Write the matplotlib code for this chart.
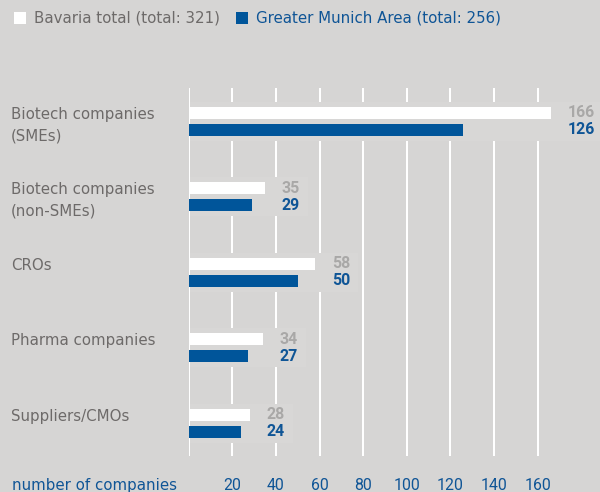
import matplotlib
matplotlib.use("Agg")
import matplotlib.pyplot as plt
from matplotlib.patches import Rectangle
from matplotlib.transforms import blended_transform_factory
import numpy as np

categories = ["Biotech companies\n(SMEs)", "Biotech companies\n(non-SMEs)", "CROs",
              "Pharma companies", "Suppliers/CMOs"]
bavaria = [166, 35, 58, 34, 28]
munich = [126, 29, 50, 27, 24]
ticks = [20, 40, 60, 80, 100, 120, 140, 160]
legend_labels = ["Bavaria total (total: 321)", "Greater Munich Area (total: 256)"]
xlabel = "number of companies"

BG = "#d6d5d4"
BOX = "#d8d7d6"
BLUE = "#00559a"
BLUE_TXT = "#0f5596"
GRAY_TXT = "#6d6a69"
GRAY_VAL = "#a9a8a7"
NUMFONT = "Roboto"

W, H = 600, 492
fig = plt.figure(figsize=(6, 4.92), dpi=100, facecolor=BG)

left_px, top_px, bot_px = 188.7, 88.3, 455.7
ax = fig.add_axes([left_px / W, (H - bot_px) / H, (W - left_px) / W, (bot_px - top_px) / H])
ax.set_facecolor(BG)
for s in ax.spines.values():
    s.set_visible(False)

scale = 2.18  # px per unit
ax.set_xlim(0, (W - left_px) / scale)
ax.set_ylim(4.43, -0.437)

ax.set_xticks(ticks)
ax.set_xticklabels([str(t) for t in ticks], fontfamily=NUMFONT, fontsize=11.4, color=BLUE_TXT)
ax.tick_params(axis="x", length=0, pad=16.0)
ax.set_yticks([])
ax.set_axisbelow(True)
ax.grid(axis="x", color="white", lw=1.45)
ax.axvline(0, color="white", lw=1.45, zorder=1.5)

y = np.arange(len(categories))
off = 0.1125
bh = 0.163
ax.barh(y - off, bavaria, height=bh, color="white", zorder=2)
ax.barh(y + off, munich, height=bh, color=BLUE, zorder=2)

for i, (b, m) in enumerate(zip(bavaria, munich)):
    mx = max(b, m)
    nd = len(str(mx))
    wbox = mx + (17 + nd * 8.6 + 9) / scale
    ax.add_patch(Rectangle((0, i - 0.26), wbox, 0.52, facecolor=BOX, edgecolor="none", zorder=1))
    ax.annotate(str(b), xy=(mx, i - off), xytext=(17, 0), textcoords="offset pixels",
                va="center", ha="left", fontfamily=NUMFONT, fontweight="bold",
                fontsize=11.4, color=GRAY_VAL, zorder=3)
    ax.annotate(str(m), xy=(mx, i + off), xytext=(17, 0), textcoords="offset pixels",
                va="center", ha="left", fontfamily=NUMFONT, fontweight="bold",
                fontsize=11.4, color=BLUE_TXT, zorder=3)

trans = blended_transform_factory(fig.transFigure, ax.transData)
for i, cat in enumerate(categories):
    for k, line in enumerate(cat.split("\n")):
        ax.annotate(line, xy=(11 / W, i - off), xycoords=trans,
                    xytext=(0, -6 - 21.7 * k), textcoords="offset pixels",
                    va="baseline", ha="left", fontfamily="DejaVu Sans", fontsize=10.8,
                    color=GRAY_TXT, annotation_clip=False)

fig.text(11.5 / W, 1 - 490 / H, xlabel, va="baseline", ha="left", fontfamily="DejaVu Sans",
         fontsize=10.8, color=BLUE_TXT)

# legend
fig.add_artist(Rectangle((14 / W, 1 - 24 / H), 12 / W, 12 / H, transform=fig.transFigure,
                         facecolor="white", edgecolor="none"))
fig.text(33.7 / W, 1 - 18.3 / H, legend_labels[0], va="center", ha="left",
         fontfamily="DejaVu Sans", fontsize=10.8, color=GRAY_TXT)
fig.add_artist(Rectangle((236 / W, 1 - 24 / H), 12 / W, 12 / H, transform=fig.transFigure,
                         facecolor=BLUE, edgecolor="none"))
fig.text(255.6 / W, 1 - 18.3 / H, legend_labels[1], va="center", ha="left",
         fontfamily="DejaVu Sans", fontsize=10.8, color=BLUE_TXT)

fig.savefig("out.png", dpi=100, facecolor=BG)
